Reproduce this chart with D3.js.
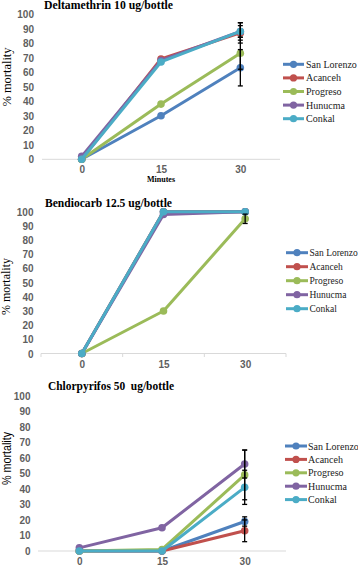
<!DOCTYPE html>
<html><head><meta charset="utf-8">
<script src="https://cdn.jsdelivr.net/npm/d3@7"></script>
<style>
html,body{margin:0;padding:0;background:#fff;}
svg{display:block;}
text{white-space:pre;}
</style></head>
<body>
<svg id="chart" width="358" height="566"></svg>
<script>
const times = ["0", "15", "30"];
const sites = ["San Lorenzo", "Acanceh", "Progreso", "Hunucma", "Conkal"];
const yTicks = [0, 10, 20, 30, 40, 50, 60, 70, 80, 90, 100];

const deltaTitle = "Deltamethrin 10 ug/bottle";
const deltaValues = [[0, 30, 63], [0, 69, 87], [0, 38, 73], [2, 68, 88], [0, 67, 88]];
const deltaErrors = [[0, 0, 12.5], [0, 0, 7], [0, 0, 11], [0, 0, 4], [0, 0, 6]];

const bendTitle = "Bendiocarb 12.5 ug/bottle";
const bendValues = [[0, 100, 100], [0, 100, 100], [0, 30, 95], [0, 98, 100], [0, 100, 100]];
const bendErrors = [[0, 0, 0], [0, 0, 0], [0, 0, 3.3], [0, 0, 0], [0, 0, 0]];

const chlorTitle = "Chlorpyrifos 50  ug/bottle";
const chlorValues = [[0, 0, 19], [0, 0, 13], [0, 1, 49], [2, 15, 56], [0, 0, 41]];
const chlorErrors = [[0, 0, 3], [0, 0, 7], [0, 0, 16], [0, 0, 9], [0, 0, 11]];

const colors = ["#4F81BD", "#C0504D", "#9BBB59", "#8064A2", "#4BACC6"];

const svg = d3.select("#chart");
const serif = "'Liberation Serif', 'DejaVu Serif', serif";
const sans = "'Liberation Sans', Arial, sans-serif";

const panels = [
  {title: deltaTitle, values: deltaValues, errors: deltaErrors,
   xr: [42, 280], y0: 159.3, y100: 14, bandTicks: false,
   tx: 44, ty: 8.5, tw: 129, lx: 10.5, ly: 77, lw: 59, lfont: serif,
   leg: {x1: 283, x2: 304, tx: 306, y: 64.3, dy: 13.6, fs: 10}, minutes: true, tickR: 34},
  {title: bendTitle, values: bendValues, errors: bendErrors,
   xr: [41, 286], y0: 353.5, y100: 211.7, bandTicks: true,
   tx: 45, ty: 207.3, tw: 127, lx: 10, ly: 286.5, lw: 57, lfont: serif,
   leg: {x1: 286, x2: 308, tx: 309.5, y: 252.7, dy: 14, fs: 9.5}, minutes: false, tickR: 33.5},
  {title: chlorTitle, values: chlorValues, errors: chlorErrors,
   xr: [38, 286], y0: 551, y100: 395.7, bandTicks: false,
   tx: 48, ty: 390, tw: 126, lx: 11, ly: 458.5, lw: 53, lfont: sans,
   leg: {x1: 285, x2: 307, tx: 308, y: 446, dy: 13.4, fs: 10}, minutes: false, tickR: 30.5}
];

panels.forEach(p => {
  const g = svg.append("g");
  const x = d3.scalePoint().domain(times).range(p.xr).padding(0.5);
  const xb = d3.scaleBand().domain(times).range(p.xr);
  const y = d3.scaleLinear().domain([0, 100]).range([p.y0, p.y100]);

  // title
  g.append("text").attr("x", p.tx).attr("y", p.ty)
    .attr("font-family", serif).attr("font-weight", "bold").attr("font-size", 11.5)
    .attr("textLength", p.tw).attr("lengthAdjust", "spacingAndGlyphs")
    .attr("fill", "#000").text(p.title);

  // y label
  g.append("text").attr("transform", `translate(${p.lx},${p.ly}) rotate(-90)`)
    .attr("text-anchor", "middle").attr("font-family", p.lfont).attr("font-size", 12)
    .attr("textLength", p.lw).attr("lengthAdjust", "spacingAndGlyphs")
    .attr("fill", "#000").text("% mortality");

  // y axis
  const ya = g.append("g").attr("transform", `translate(${p.tickR},0)`)
    .call(d3.axisLeft(y).tickValues(yTicks).tickSize(0).tickPadding(0));
  ya.select(".domain").remove();
  ya.selectAll("text").attr("font-family", sans).attr("font-weight", "bold")
    .attr("font-size", 10).attr("fill", "#5f5f5f").attr("dy", "0.35em");

  // x axis baseline
  g.append("line").attr("x1", p.xr[0]).attr("x2", p.xr[1])
    .attr("y1", y(0)).attr("y2", y(0)).attr("stroke", "#d9d9d9").attr("stroke-width", 1);
  if (p.bandTicks) {
    const edges = times.map(t => xb(t)).concat([xb(times[times.length - 1]) + xb.bandwidth()]);
    g.selectAll(".bt").data(edges).enter().append("line")
      .attr("x1", d => d).attr("x2", d => d).attr("y1", y(0)).attr("y2", y(0) + 3.5)
      .attr("stroke", "#d9d9d9").attr("stroke-width", 1);
  }
  const xa = g.append("g").attr("transform", `translate(0,${y(0)})`)
    .call(d3.axisBottom(x).tickSize(0).tickPadding(7));
  xa.select(".domain").remove();
  xa.selectAll("text").attr("font-family", sans).attr("font-weight", "bold")
    .attr("font-size", 10).attr("fill", "#5f5f5f");

  if (p.minutes) {
    g.append("text").attr("x", x("15")).attr("y", y(0) + 23)
      .attr("text-anchor", "middle").attr("font-family", serif).attr("font-weight", "bold")
      .attr("font-size", 8).attr("fill", "#000").text("Minutes");
  }

  // series
  const line = d3.line().x((d, i) => x(times[i])).y(d => y(d));
  sites.forEach((s, si) => {
    const vals = p.values[si];
    g.append("path").datum(vals).attr("d", line).attr("fill", "none")
      .attr("stroke", colors[si]).attr("stroke-width", 3).attr("stroke-linejoin", "round");
    g.selectAll(".m" + si).data(vals).enter().append("circle")
      .attr("cx", (d, i) => x(times[i])).attr("cy", d => y(d)).attr("r", 3.8)
      .attr("fill", colors[si]);
  });

  // error bars
  sites.forEach((s, si) => {
    p.errors[si].forEach((e, i) => {
      if (!e) return;
      const v = p.values[si][i];
      const cx = x(times[i]);
      const lo = Math.max(0, v - e), hi = Math.min(100, v + e);
      g.append("line").attr("x1", cx).attr("x2", cx).attr("y1", y(lo)).attr("y2", y(hi))
        .attr("stroke", "#000").attr("stroke-width", 1.3);
      [lo, hi].forEach(b => g.append("line").attr("x1", cx - 2.5).attr("x2", cx + 2.5)
        .attr("y1", y(b)).attr("y2", y(b)).attr("stroke", "#000").attr("stroke-width", 1.3));
    });
  });

  // legend
  const L = p.leg;
  sites.forEach((s, si) => {
    const yy = L.y + si * L.dy;
    g.append("line").attr("x1", L.x1).attr("x2", L.x2).attr("y1", yy).attr("y2", yy)
      .attr("stroke", colors[si]).attr("stroke-width", 3);
    g.append("circle").attr("cx", (L.x1 + L.x2) / 2).attr("cy", yy).attr("r", 3.6).attr("fill", colors[si]);
    g.append("text").attr("x", L.tx).attr("y", yy).attr("dy", "0.35em")
      .attr("font-family", serif).attr("font-size", L.fs).attr("fill", "#222").text(s);
  });
});
</script>
</body></html>
